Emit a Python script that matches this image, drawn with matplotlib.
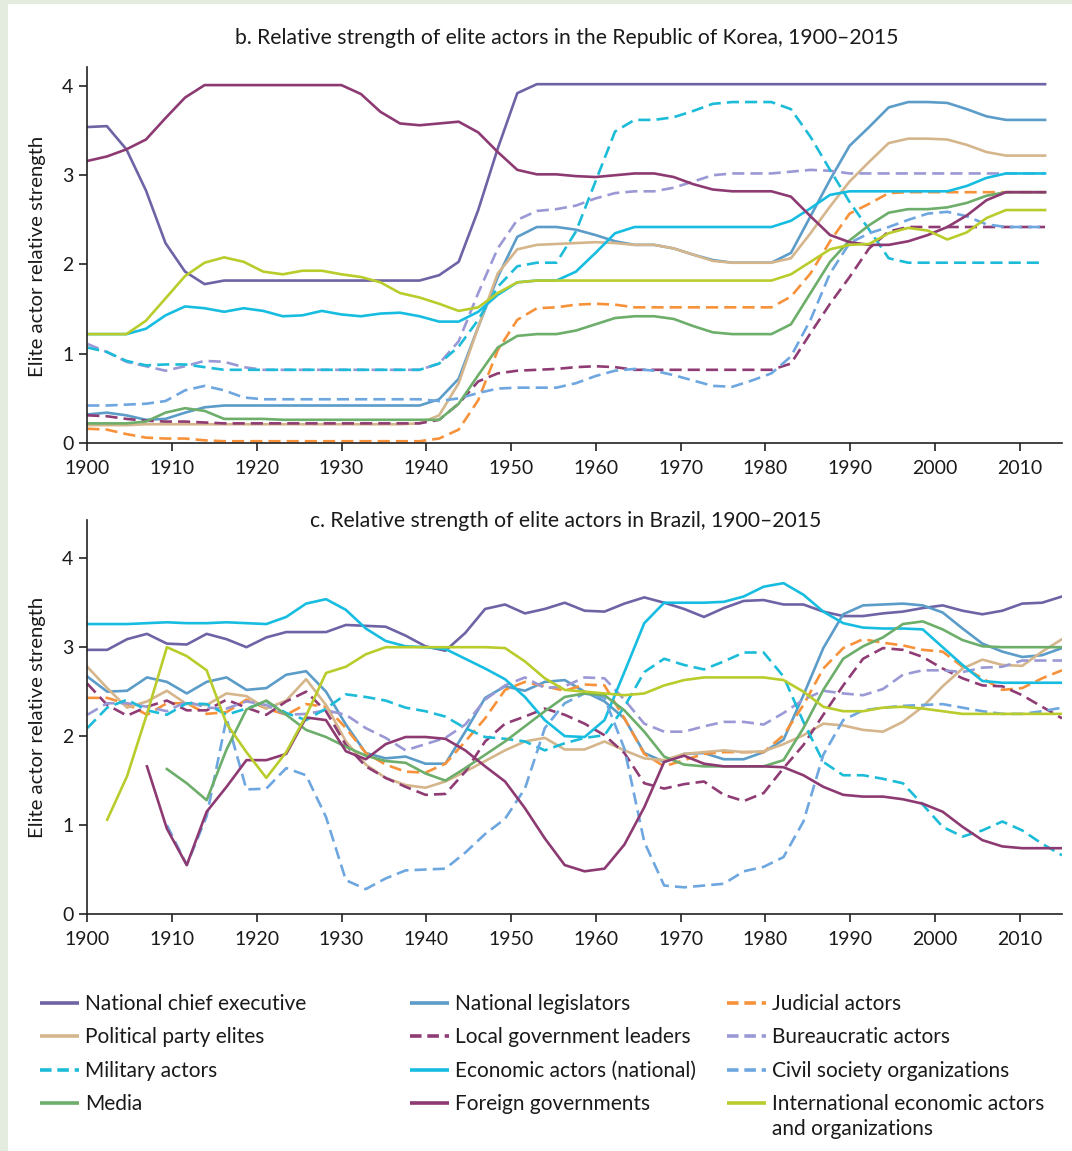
import numpy as np
import matplotlib
matplotlib.use("Agg")
import matplotlib.pyplot as plt
from matplotlib.patches import Rectangle

plt.rcParams['font.family'] = ['Lato', 'DejaVu Sans']

nan = np.nan

# x positions of the data points (Korea ends a bit before 2015)
years_kr = np.linspace(1900, 2013, 50)
years_br = np.linspace(1900, 2015, 50)

# ---------------- b. Republic of Korea ----------------
chief_kr = [3.54, 3.55, 3.29, 2.83, 2.24, 1.92, 1.78, 1.82, 1.82, 1.82,
            1.82, 1.82, 1.82, 1.82, 1.82, 1.82, 1.82, 1.82, 1.88, 2.03,
            2.61, 3.30, 3.92, 4.02, 4.02, 4.02, 4.02, 4.02, 4.02, 4.02,
            4.02, 4.02, 4.02, 4.02, 4.02, 4.02, 4.02, 4.02, 4.02, 4.02,
            4.02, 4.02, 4.02, 4.02, 4.02, 4.02, 4.02, 4.02, 4.02, 4.02]
legis_kr = [0.32, 0.34, 0.31, 0.26, 0.27, 0.34, 0.40, 0.42, 0.42, 0.42,
            0.42, 0.42, 0.42, 0.42, 0.42, 0.42, 0.42, 0.42, 0.49, 0.72,
            1.30, 1.86, 2.31, 2.42, 2.42, 2.39, 2.33, 2.26, 2.22, 2.22,
            2.18, 2.11, 2.05, 2.02, 2.02, 2.02, 2.13, 2.54, 2.95, 3.33,
            3.54, 3.76, 3.82, 3.82, 3.81, 3.74, 3.66, 3.62, 3.62, 3.62]
judicial_kr = [0.16, 0.15, 0.10, 0.06, 0.05, 0.05, 0.03, 0.02, 0.02, 0.02,
               0.02, 0.02, 0.02, 0.02, 0.02, 0.02, 0.02, 0.02, 0.05, 0.15,
               0.48, 1.04, 1.38, 1.51, 1.52, 1.55, 1.56, 1.55, 1.52, 1.52,
               1.52, 1.52, 1.52, 1.52, 1.52, 1.52, 1.64, 1.90, 2.26, 2.57,
               2.68, 2.80, 2.81, 2.81, 2.81, 2.81, 2.81, 2.81, 2.81, 2.81]
party_kr = [0.20, 0.20, 0.20, 0.21, 0.21, 0.21, 0.21, 0.21, 0.21, 0.21,
            0.21, 0.21, 0.21, 0.21, 0.21, 0.21, 0.21, 0.22, 0.31, 0.67,
            1.30, 1.90, 2.17, 2.22, 2.23, 2.24, 2.25, 2.24, 2.22, 2.22,
            2.18, 2.11, 2.04, 2.02, 2.02, 2.02, 2.07, 2.35, 2.65, 2.93,
            3.15, 3.36, 3.41, 3.41, 3.40, 3.34, 3.26, 3.22, 3.22, 3.22]
local_kr = [0.31, 0.30, 0.27, 0.25, 0.24, 0.24, 0.23, 0.22, 0.22, 0.22,
            0.22, 0.22, 0.22, 0.22, 0.22, 0.22, 0.22, 0.22, 0.26, 0.44,
            0.69, 0.78, 0.81, 0.82, 0.83, 0.85, 0.86, 0.85, 0.82, 0.82,
            0.82, 0.82, 0.82, 0.82, 0.82, 0.82, 0.89, 1.23, 1.56, 1.86,
            2.18, 2.37, 2.42, 2.42, 2.42, 2.42, 2.42, 2.42, 2.42, 2.42]
bureau_kr = [1.11, 1.02, 0.91, 0.86, 0.81, 0.86, 0.92, 0.91, 0.85, 0.82,
             0.82, 0.82, 0.82, 0.82, 0.82, 0.82, 0.82, 0.82, 0.89, 1.14,
             1.68, 2.18, 2.50, 2.60, 2.62, 2.66, 2.74, 2.80, 2.82, 2.82,
             2.86, 2.93, 3.00, 3.02, 3.02, 3.02, 3.04, 3.06, 3.05, 3.02,
             3.02, 3.02, 3.02, 3.02, 3.02, 3.02, 3.02, 3.02, 3.02, 3.02]
military_kr = [1.07, 1.02, 0.92, 0.87, 0.88, 0.88, 0.85, 0.82, 0.82, 0.82,
               0.82, 0.82, 0.82, 0.82, 0.82, 0.82, 0.82, 0.82, 0.89, 1.08,
               1.38, 1.75, 1.98, 2.02, 2.02, 2.37, 2.93, 3.49, 3.62, 3.62,
               3.65, 3.72, 3.80, 3.82, 3.82, 3.82, 3.74, 3.43, 3.06, 2.70,
               2.39, 2.07, 2.02, 2.02, 2.02, 2.02, 2.02, 2.02, 2.02, 2.02]
econ_kr = [1.22, 1.22, 1.22, 1.28, 1.43, 1.53, 1.51, 1.47, 1.51, 1.48,
           1.42, 1.43, 1.48, 1.44, 1.42, 1.45, 1.46, 1.42, 1.36, 1.36,
           1.47, 1.66, 1.80, 1.82, 1.82, 1.92, 2.13, 2.35, 2.42, 2.42,
           2.42, 2.42, 2.42, 2.42, 2.42, 2.42, 2.49, 2.63, 2.78, 2.82,
           2.82, 2.82, 2.82, 2.82, 2.82, 2.88, 2.97, 3.02, 3.02, 3.02]
civil_kr = [0.42, 0.42, 0.43, 0.44, 0.47, 0.59, 0.64, 0.59, 0.51, 0.49,
            0.49, 0.49, 0.49, 0.49, 0.49, 0.49, 0.49, 0.49, 0.47, 0.50,
            0.56, 0.61, 0.62, 0.62, 0.62, 0.67, 0.75, 0.81, 0.83, 0.81,
            0.76, 0.70, 0.64, 0.63, 0.70, 0.78, 0.97, 1.38, 1.90, 2.24,
            2.35, 2.42, 2.50, 2.57, 2.59, 2.54, 2.45, 2.42, 2.42, 2.42]
media_kr = [0.22, 0.22, 0.22, 0.24, 0.34, 0.39, 0.36, 0.27, 0.27, 0.27,
            0.26, 0.26, 0.26, 0.26, 0.26, 0.26, 0.26, 0.26, 0.26, 0.44,
            0.76, 1.07, 1.20, 1.22, 1.22, 1.26, 1.33, 1.40, 1.42, 1.42,
            1.39, 1.31, 1.24, 1.22, 1.22, 1.22, 1.33, 1.68, 2.03, 2.27,
            2.44, 2.58, 2.62, 2.62, 2.64, 2.69, 2.77, 2.81, 2.81, 2.81]
foreign_kr = [3.16, 3.21, 3.29, 3.40, 3.64, 3.87, 4.01, 4.01, 4.01, 4.01,
              4.01, 4.01, 4.01, 4.01, 3.91, 3.71, 3.58, 3.56, 3.58, 3.60,
              3.48, 3.26, 3.06, 3.01, 3.01, 2.99, 2.98, 3.00, 3.02, 3.02,
              2.98, 2.90, 2.84, 2.82, 2.82, 2.82, 2.76, 2.54, 2.33, 2.25,
              2.22, 2.22, 2.26, 2.33, 2.42, 2.55, 2.72, 2.81, 2.81, 2.81]
intl_kr = [1.22, 1.22, 1.22, 1.37, 1.62, 1.87, 2.02, 2.08, 2.03, 1.92,
           1.89, 1.93, 1.93, 1.89, 1.86, 1.80, 1.68, 1.63, 1.56, 1.48,
           1.52, 1.68, 1.80, 1.82, 1.82, 1.82, 1.82, 1.82, 1.82, 1.82,
           1.82, 1.82, 1.82, 1.82, 1.82, 1.82, 1.89, 2.03, 2.17, 2.22,
           2.23, 2.35, 2.41, 2.38, 2.28, 2.36, 2.52, 2.61, 2.61, 2.61]

# ---------------- c. Brazil ----------------
chief_br = [2.97, 2.97, 3.09, 3.15, 3.04, 3.03, 3.15, 3.09, 3.00, 3.11,
            3.17, 3.17, 3.17, 3.25, 3.24, 3.23, 3.13, 3.01, 2.96, 3.16,
            3.43, 3.48, 3.38, 3.43, 3.50, 3.41, 3.40, 3.49, 3.56, 3.50,
            3.43, 3.34, 3.44, 3.52, 3.53, 3.48, 3.48, 3.40, 3.35, 3.35,
            3.38, 3.40, 3.44, 3.47, 3.41, 3.37, 3.41, 3.49, 3.50, 3.57]
legis_br = [2.67, 2.50, 2.51, 2.66, 2.61, 2.48, 2.61, 2.66, 2.52, 2.54,
            2.69, 2.73, 2.50, 2.13, 1.81, 1.75, 1.77, 1.69, 1.69, 2.05,
            2.43, 2.56, 2.51, 2.61, 2.63, 2.50, 2.39, 2.20, 1.81, 1.71,
            1.80, 1.81, 1.74, 1.74, 1.82, 1.96, 2.46, 2.99, 3.37, 3.47,
            3.48, 3.49, 3.47, 3.39, 3.21, 3.04, 2.95, 2.89, 2.91, 2.99]
judicial_br = [2.43, 2.43, 2.36, 2.24, 2.37, 2.37, 2.25, 2.27, 2.41, 2.31,
               2.24, 2.36, 2.33, 2.09, 1.81, 1.68, 1.60, 1.59, 1.69, 1.94,
               2.20, 2.52, 2.61, 2.56, 2.51, 2.58, 2.57, 2.20, 1.80, 1.66,
               1.73, 1.80, 1.82, 1.82, 1.82, 2.01, 2.35, 2.76, 2.99, 3.09,
               3.05, 3.02, 2.97, 2.95, 2.78, 2.65, 2.52, 2.54, 2.65, 2.74]
party_br = [2.78, 2.54, 2.32, 2.39, 2.51, 2.36, 2.35, 2.48, 2.45, 2.31,
            2.40, 2.64, 2.35, 1.94, 1.68, 1.53, 1.45, 1.42, 1.49, 1.60,
            1.72, 1.84, 1.94, 1.98, 1.85, 1.85, 1.94, 1.84, 1.75, 1.73,
            1.80, 1.82, 1.84, 1.82, 1.83, 1.91, 2.01, 2.14, 2.12, 2.07,
            2.05, 2.16, 2.33, 2.56, 2.76, 2.86, 2.80, 2.79, 2.95, 3.09]
local_br = [2.59, 2.35, 2.23, 2.33, 2.40, 2.29, 2.29, 2.41, 2.32, 2.24,
            2.39, 2.50, 2.28, 1.90, 1.66, 1.53, 1.43, 1.34, 1.35, 1.60,
            1.94, 2.14, 2.22, 2.31, 2.24, 2.14, 2.01, 1.81, 1.47, 1.41,
            1.46, 1.49, 1.34, 1.27, 1.36, 1.64, 1.90, 2.24, 2.57, 2.87,
            2.99, 2.97, 2.89, 2.76, 2.65, 2.57, 2.56, 2.46, 2.33, 2.20]
bureau_br = [2.24, 2.37, 2.37, 2.33, 2.28, 2.39, 2.32, 2.31, 2.39, 2.35,
             2.24, 2.25, 2.29, 2.24, 2.09, 1.98, 1.84, 1.91, 1.98, 2.13,
             2.41, 2.57, 2.66, 2.54, 2.56, 2.66, 2.65, 2.41, 2.14, 2.05,
             2.05, 2.11, 2.16, 2.16, 2.13, 2.26, 2.41, 2.51, 2.48, 2.46,
             2.53, 2.69, 2.74, 2.74, 2.72, 2.77, 2.78, 2.85, 2.85, 2.85]
military_br = [2.09, 2.32, 2.41, 2.29, 2.24, 2.37, 2.36, 2.24, 2.31, 2.39,
               2.26, 2.18, 2.31, 2.47, 2.44, 2.40, 2.32, 2.28, 2.22, 2.09,
               1.99, 1.97, 1.94, 1.84, 1.92, 1.98, 2.01, 2.33, 2.72, 2.87,
               2.80, 2.75, 2.84, 2.94, 2.94, 2.67, 2.16, 1.71, 1.56, 1.56,
               1.52, 1.47, 1.23, 0.98, 0.87, 0.94, 1.04, 0.94, 0.79, 0.66]
econ_br = [3.26, 3.26, 3.26, 3.27, 3.28, 3.27, 3.27, 3.28, 3.27, 3.26,
           3.34, 3.49, 3.54, 3.42, 3.21, 3.07, 3.01, 3.00, 2.98, 2.87,
           2.76, 2.64, 2.44, 2.18, 2.00, 1.99, 2.18, 2.72, 3.27, 3.50,
           3.50, 3.50, 3.51, 3.57, 3.68, 3.72, 3.59, 3.40, 3.27, 3.22,
           3.21, 3.21, 3.20, 3.00, 2.80, 2.62, 2.60, 2.60, 2.60, 2.60]
civil_br = [nan, nan, nan, nan, 1.00, 0.55, 1.10, 2.20, 1.40, 1.41,
            1.64, 1.56, 1.09, 0.38, 0.28, 0.40, 0.49, 0.50, 0.51, 0.69,
            0.90, 1.07, 1.41, 2.09, 2.37, 2.48, 2.43, 1.86, 0.81, 0.32,
            0.30, 0.32, 0.34, 0.48, 0.53, 0.64, 1.04, 1.79, 2.18, 2.29,
            2.32, 2.34, 2.35, 2.36, 2.32, 2.28, 2.25, 2.25, 2.28, 2.32]
media_br = [nan, nan, nan, nan, 1.63, 1.47, 1.28, 1.85, 2.30, 2.40,
            2.24, 2.07, 1.99, 1.88, 1.78, 1.72, 1.70, 1.58, 1.50, 1.64,
            1.79, 1.94, 2.11, 2.28, 2.44, 2.48, 2.46, 2.29, 2.05, 1.77,
            1.68, 1.66, 1.66, 1.66, 1.66, 1.73, 2.09, 2.52, 2.87, 3.01,
            3.11, 3.26, 3.29, 3.20, 3.08, 3.01, 3.00, 3.00, 3.00, 3.00]
foreign_br = [nan, nan, nan, 1.66, 0.96, 0.55, 1.15, 1.43, 1.73, 1.73,
              1.80, 2.21, 2.18, 1.83, 1.74, 1.91, 1.99, 1.99, 1.97, 1.84,
              1.66, 1.49, 1.19, 0.85, 0.55, 0.48, 0.51, 0.78, 1.20, 1.71,
              1.78, 1.69, 1.66, 1.66, 1.66, 1.65, 1.56, 1.43, 1.34, 1.32,
              1.32, 1.29, 1.24, 1.15, 0.98, 0.83, 0.76, 0.74, 0.74, 0.74]
intl_br = [nan, 1.06, 1.55, 2.25, 3.00, 2.90, 2.74, 2.14, 1.82, 1.53,
           1.82, 2.23, 2.71, 2.78, 2.92, 3.00, 3.00, 3.00, 3.00, 3.00,
           3.00, 2.99, 2.84, 2.65, 2.52, 2.50, 2.48, 2.46, 2.48, 2.57,
           2.63, 2.66, 2.66, 2.66, 2.66, 2.63, 2.50, 2.33, 2.28, 2.28,
           2.32, 2.33, 2.31, 2.28, 2.25, 2.25, 2.25, 2.25, 2.25, 2.25]

actors = ['National chief executive', 'National legislators', 'Judicial actors',
          'Political party elites', 'Local government leaders', 'Bureaucratic actors',
          'Military actors', 'Economic actors (national)', 'Civil society organizations',
          'Media', 'Foreign governments', 'International economic actors\nand organizations']

korea = [chief_kr, legis_kr, judicial_kr, party_kr, local_kr, bureau_kr,
         military_kr, econ_kr, civil_kr, media_kr, foreign_kr, intl_kr]
brazil = [chief_br, legis_br, judicial_br, party_br, local_br, bureau_br,
          military_br, econ_br, civil_br, media_br, foreign_br, intl_br]

colors = ['#6f63a6', '#5b9cc9', '#f7923a',
          '#d5b68c', '#8f3b74', '#9a99d6',
          '#1cbcd9', '#17bde0', '#6ea6e0',
          '#6cae6a', '#8d3a72', '#b9cc2c']
dashed = [False, False, True,
          False, True, True,
          True, False, True,
          False, False, False]

txt = '#1a1a1a'

fig = plt.figure(figsize=(10.72, 11.51), dpi=100, facecolor='white')
# light green frame strips on the left and top
fig.patches.append(Rectangle((0, 0), 8 / 1072, 1, transform=fig.transFigure,
                             facecolor='#e4ecdf', edgecolor='none', zorder=-10))
fig.patches.append(Rectangle((0, 1 - 4 / 1151), 1, 4 / 1151, transform=fig.transFigure,
                             facecolor='#e4ecdf', edgecolor='none', zorder=-10))


def draw_panel(ax, years, values, ytop):
    for vals, c, d in zip(values, colors, dashed):
        ls = (0, (4.6, 2.3)) if d else '-'
        ax.plot(years, vals, color=c, lw=1.9, linestyle=ls,
                solid_joinstyle='round', dash_capstyle='butt')
    ax.set_xlim(1900, 2015)
    ax.set_ylim(0, ytop)
    ax.set_xticks(range(1900, 2011, 10))
    ax.set_yticks([0, 1, 2, 3, 4])
    ax.spines[['top', 'right']].set_visible(False)
    for s in ['left', 'bottom']:
        ax.spines[s].set_linewidth(1.2)
        ax.spines[s].set_color('#222222')
    ax.tick_params(direction='out', length=6, width=1.2, color='#222222',
                   labelsize=14, labelcolor=txt)
    ax.tick_params(axis='x', pad=6)
    ax.tick_params(axis='y', pad=4)
    ax.patch.set_alpha(0)


ax1 = fig.add_axes([87.3 / 1072, 708 / 1151, 974.7 / 1072, 376.3 / 1151])
draw_panel(ax1, years_kr, korea, 4.216)
ax2 = fig.add_axes([87.3 / 1072, 237 / 1151, 974.7 / 1072, 394 / 1151])
draw_panel(ax2, years_br, brazil, 4.43)

fig.text(567 / 1072, 1 - 38 / 1151,
         'b. Relative strength of elite actors in the Republic of Korea, 1900\u20132015',
         ha='center', va='center', fontsize=15.2, color=txt)
fig.text(566 / 1072, 1 - 521 / 1151,
         'c. Relative strength of elite actors in Brazil, 1900\u20132015',
         ha='center', va='center', fontsize=15.2, color=txt)
for yc in [256, 717]:
    fig.text(38 / 1072, 1 - yc / 1151, 'Elite actor relative strength',
             ha='center', va='center', rotation=90, fontsize=14.6, color=txt)

# legend drawn in pixel space, 3 columns x 4 rows
lax = fig.add_axes([0, 0, 1, 1])
lax.set_xlim(0, 1072)
lax.set_ylim(1151, 0)
lax.axis('off')
col_x = [40, 410, 727]
for i, (name, c, d) in enumerate(zip(actors, colors, dashed)):
    row, col = divmod(i, 3)
    x0 = col_x[col]
    y0 = 1003 + row * 33.3
    ls = (0, (3.2, 1.6)) if d else '-'
    lax.plot([x0, x0 + 39], [y0, y0], color=c, lw=2.6, linestyle=ls,
             solid_capstyle='butt', dash_capstyle='butt')
    for j, line in enumerate(name.split('\n')):
        lax.text(x0 + 45, y0 + 7 + j * 25, line, ha='left', va='baseline',
                 fontsize=15, color=txt)

fig.savefig('out.png', dpi=100)
